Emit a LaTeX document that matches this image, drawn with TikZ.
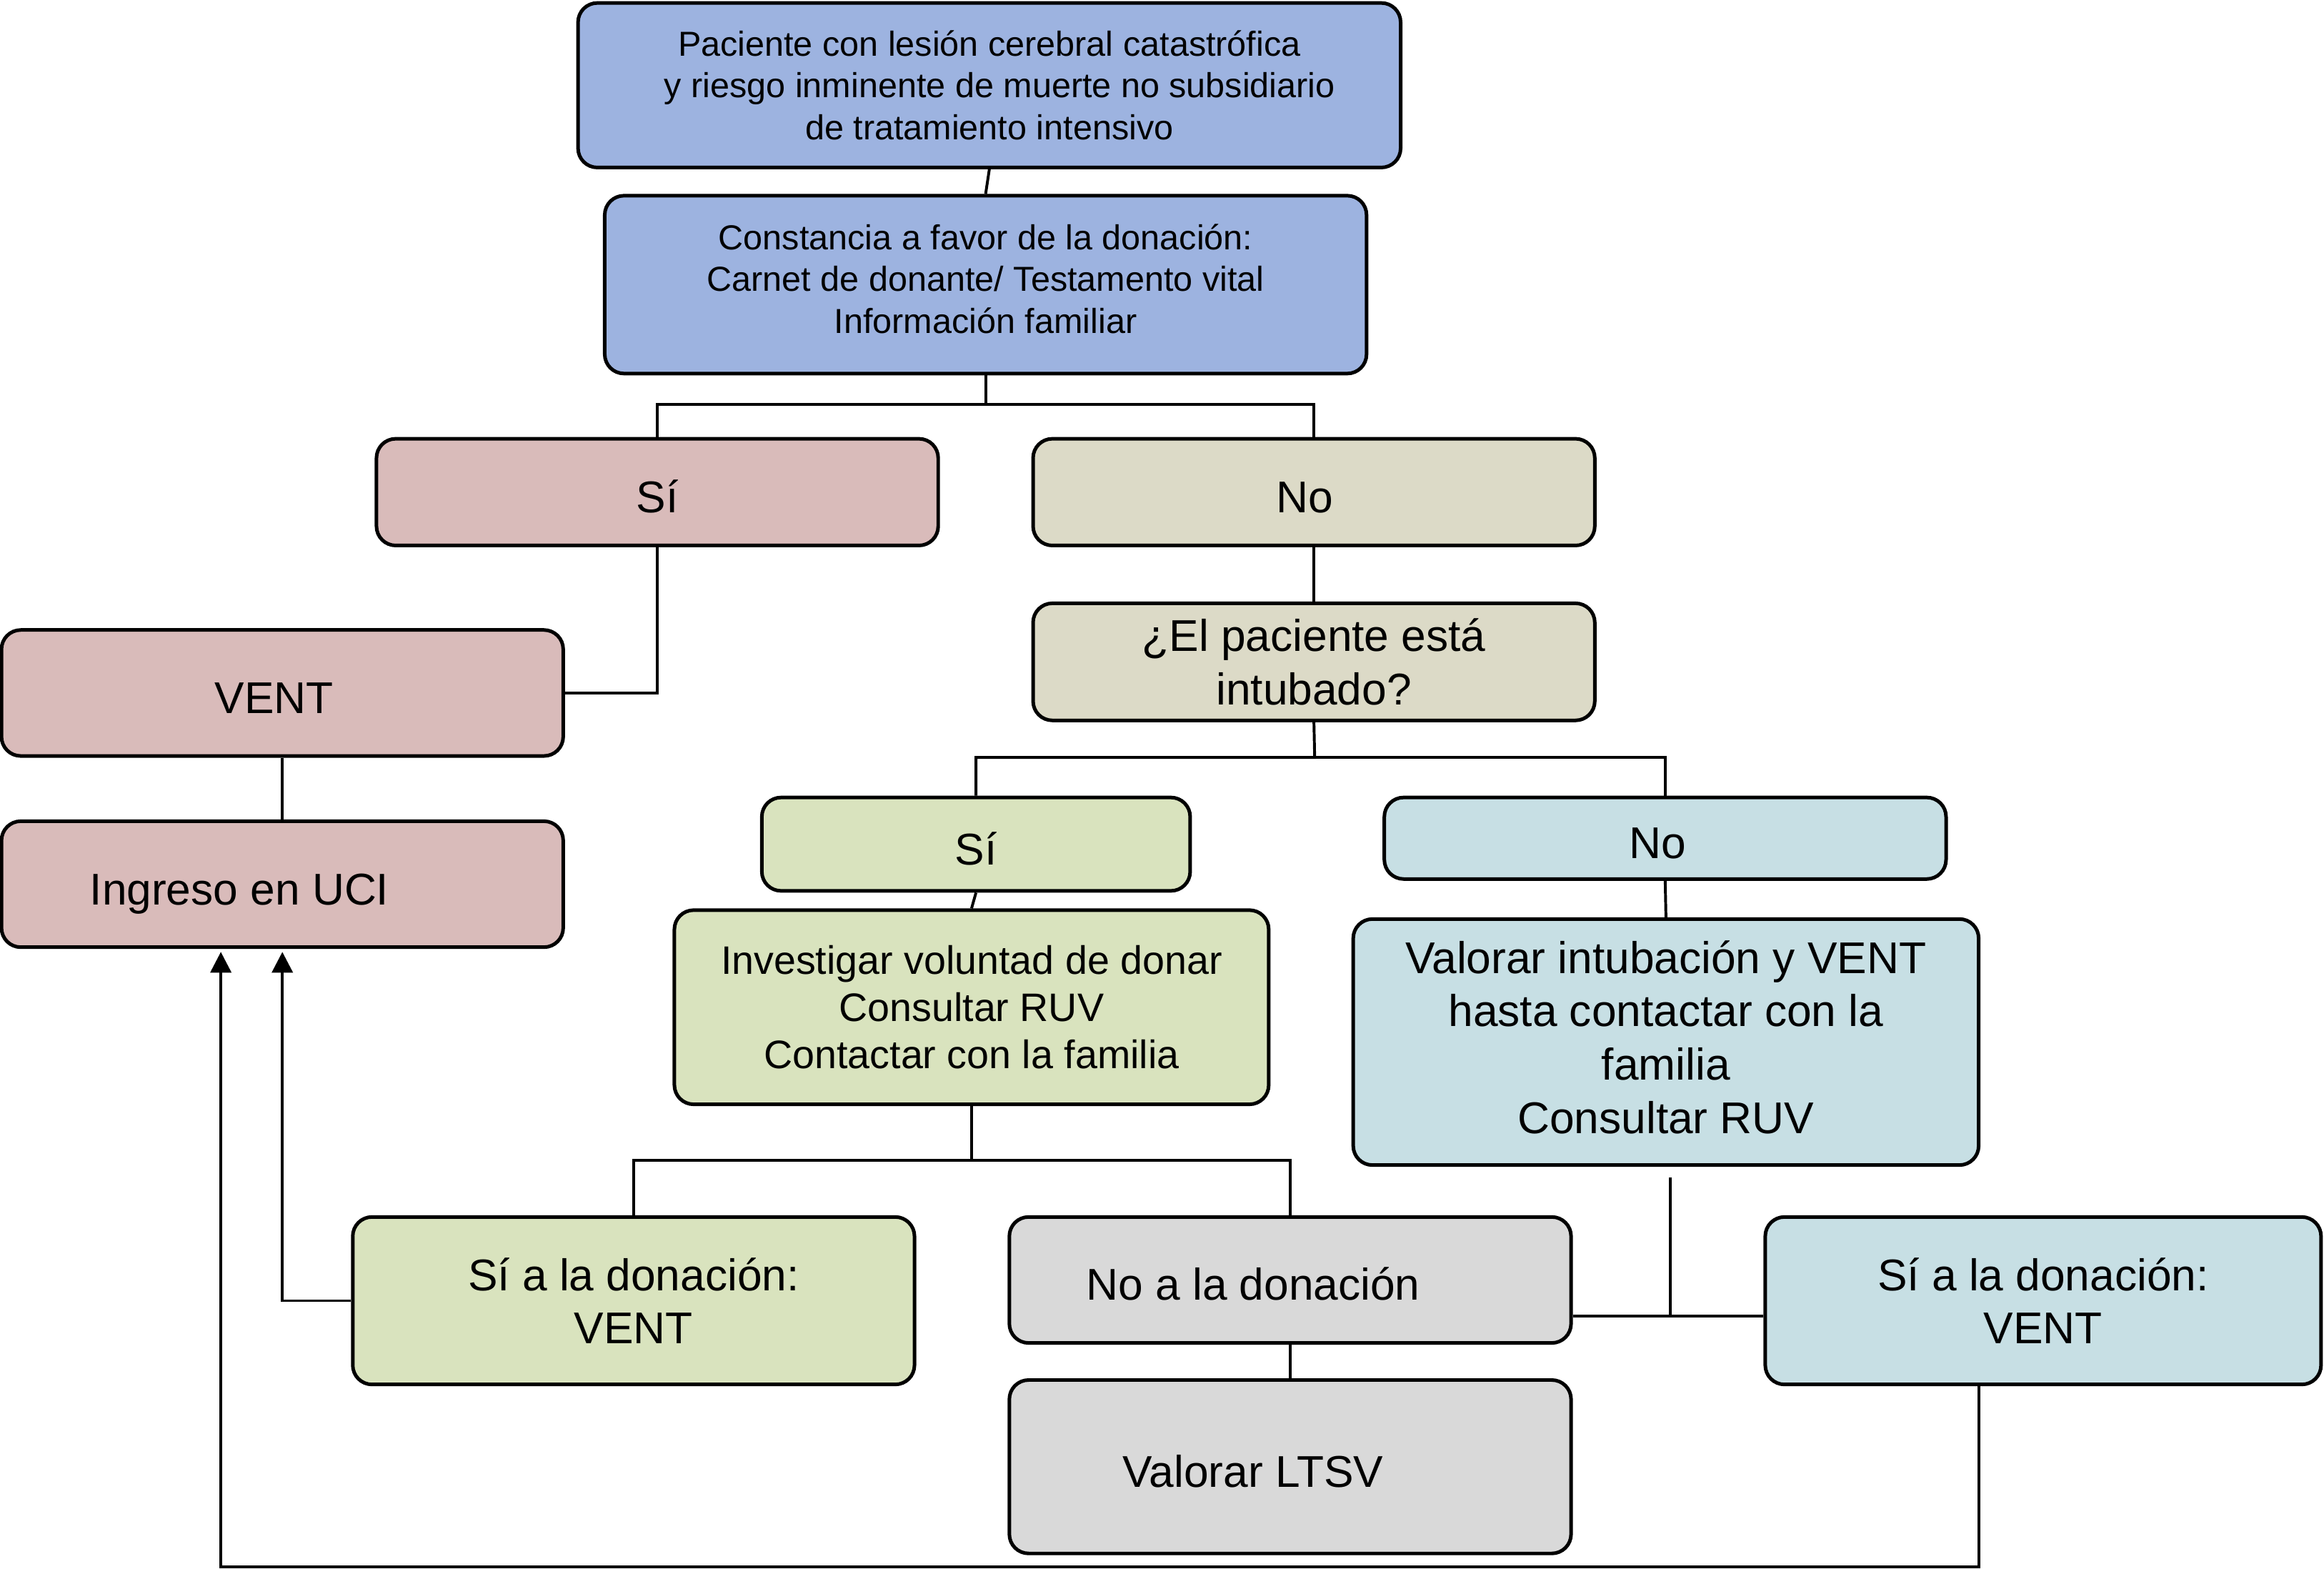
\documentclass[tikz,border=0pt]{standalone}
\usepackage{fontspec}
\setmainfont{Liberation Sans}
\usetikzlibrary{arrows.meta}
\definecolor{cblue}{RGB}{157,179,224}
\definecolor{cpink}{RGB}{217,187,186}
\definecolor{cbeige}{RGB}{220,218,199}
\definecolor{cgreen}{RGB}{217,227,190}
\definecolor{clblue}{RGB}{199,223,228}
\definecolor{cgrey}{RGB}{217,217,217}
\newcommand{\fsmall}{\fontsize{23.4}{28}\selectfont}
\newcommand{\fmid}{\fontsize{26.8}{32}\selectfont}
\newcommand{\fbig}{\fontsize{30}{36}\selectfont}
\begin{document}
\begin{tikzpicture}[x=1pt,y=-1pt,line width=1.9pt]
    \tikzstyle{box}=[draw=black,line width=2.4pt,rounded corners=13pt,inner sep=0pt,align=center,font=\fbig]
    \tikzstyle{one}=[text height=27.5pt,text depth=0pt]
    \tikzstyle{flow}=[shorten >=2pt,-{Triangle[length=14pt,width=14pt]}]
    \useasboundingbox (0,0) rectangle (1568,1058.5);

    % first level
    \node[box,fill=cblue,font=\fsmall,minimum width=555pt,minimum height=111pt] (pac) at (667.5,57.5)
        {Paciente con lesión cerebral catastrófica\\\hspace*{14pt}y riesgo inminente de muerte no subsidiario\\de tratamiento intensivo};
    \node[box,fill=cblue,font=\fsmall,minimum width=514pt,minimum height=120pt] (cons) at (665,192)
        {Constancia a favor de la donación:\\Carnet de donante/ Testamento vital\\Información familiar\\[-20pt]};

    % si / no
    \node[box,one,fill=cpink,minimum width=379pt,minimum height=72pt] (si) at (443.5,332) {Sí};
    \node[box,one,fill=cbeige,minimum width=379pt,minimum height=72pt] (no) at (886.5,332) {No\hspace*{12pt}};
    \node[box,one,fill=cpink,minimum width=379pt,minimum height=85pt] (vent) at (190.5,467.5) {VENT\hspace*{11pt}};
    \node[box,one,fill=cpink,minimum width=379pt,minimum height=85pt] (uci) at (190.5,596.5) {Ingreso en UCI\hspace*{58pt}};
    \node[box,fill=cbeige,minimum width=379pt,minimum height=79pt] (intub) at (886.5,446.5) {¿El paciente está\\intubado?};

    % intubado
    \node[box,one,fill=cgreen,minimum width=289pt,minimum height=63pt] (si2) at (658.5,569.5) {Sí};
    \node[box,one,fill=clblue,minimum width=379pt,minimum height=55pt] (no2) at (1123.5,565.5) {No\hspace*{10pt}};
    \node[box,fill=cgreen,font=\fmid,minimum width=401pt,minimum height=131pt] (inv) at (655.5,679.5)
        {Investigar voluntad de donar\\Consultar RUV\\Contactar con la familia};
    \node[box,fill=clblue,minimum width=422pt,minimum height=166pt] (val) at (1124,703)
        {Valorar intubación y VENT\\hasta contactar con la\\familia\\Consultar RUV\\[-29pt]};

    % donacion
    \node[box,fill=cgreen,minimum width=379pt,minimum height=113pt] (sidon) at (427.5,877.5) {Sí a la donación:\\VENT};
    \node[box,one,fill=cgrey,minimum width=379pt,minimum height=85pt] (nodon) at (870.5,863.5) {No a la donación\hspace*{50pt}};
    \node[box,one,fill=cgrey,minimum width=379pt,minimum height=117pt] (ltsv) at (870.5,989.5) {Valorar LTSV\hspace*{50pt}};
    \node[box,fill=clblue,minimum width=375pt,minimum height=113pt] (sidon2) at (1378.5,877.5) {Sí a la donación:\\VENT};

    \coordinate (t1) at (665,273);
    \coordinate (t2) at (887,511);
    \coordinate (t3) at (655.5,783);
    \coordinate (jn) at (1127,888);
    \coordinate (ret) at (149,1057);

    \foreach \from/\to in {pac/cons, vent/uci, no/intub, si2/inv, no2/val, nodon/ltsv}
        \draw (\from.south) -- (\to.north);

    \draw (cons.south) -- (t1) -| (si.north);
    \draw (t1) -| (no.north);
    \draw (si.south) |- (vent.east);
    \draw (intub.south) -- (t2) -| (si2.north);
    \draw (t2) -| (no2.north);
    \draw (inv.south) -- (t3) -| (sidon.north);
    \draw (t3) -| (nodon.north);
    \draw ([xshift=3pt,yshift=-7pt]val.south) -- (jn);
    \draw (jn -| nodon.east) -- (jn) -- (jn -| sidon2.west);

    \draw[flow] (sidon.west) -| (uci.south);
    \draw[flow] ([xshift=-43.5pt]sidon2.south) |- (ret) -- (ret |- uci.south);
\end{tikzpicture}
\end{document}
